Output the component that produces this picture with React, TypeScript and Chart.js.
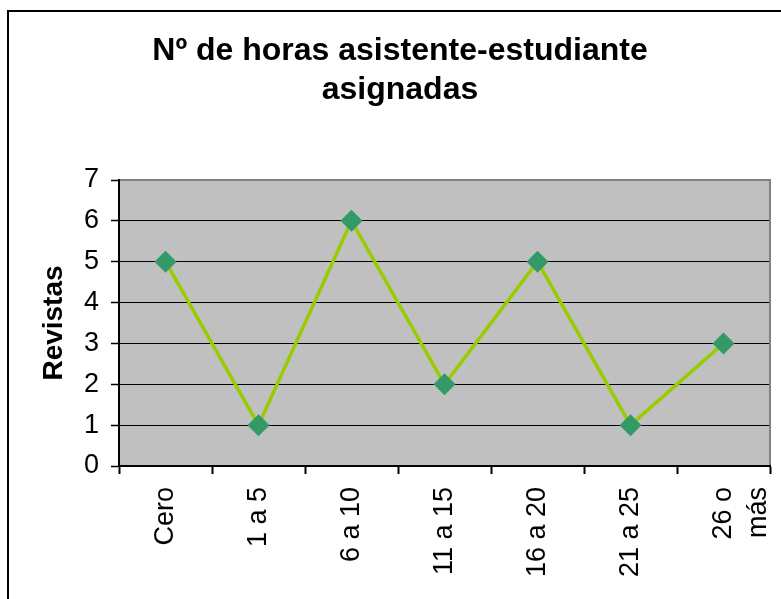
import { useEffect, useRef } from 'react';
import { Chart, registerables } from 'chart.js';

Chart.register(...registerables);

const categories: (string | string[])[] = ['Cero', '1 a 5', '6 a 10', '11 a 15', '16 a 20', '21 a 25', ['26 o', 'más']];
const revistas: number[] = [5, 1, 6, 2, 5, 1, 3];
const yMin = 0;
const yMax = 7;
const yStep = 1;
const titleLines: string[] = ['Nº de horas asistente-estudiante', 'asignadas'];
const yAxisTitle = 'Revistas';

const FONT = '"Liberation Sans", Arial, sans-serif';

const framePlugin = {
  id: 'frame',
  beforeDraw(chart: any) {
    const { ctx, chartArea: a } = chart;
    ctx.save();
    ctx.fillStyle = '#ffffff';
    ctx.fillRect(0, 0, chart.width, chart.height);
    ctx.fillStyle = '#C0C0C0';
    ctx.fillRect(a.left, a.top, a.right - a.left, a.bottom - a.top);
    ctx.strokeStyle = '#000000';
    ctx.lineWidth = 2;
    ctx.beginPath();
    ctx.moveTo(8, chart.height + 2);
    ctx.lineTo(8, 11);
    ctx.lineTo(chart.width + 2, 11);
    ctx.stroke();
    ctx.restore();
  },
  beforeDatasetsDraw(chart: any) {
    const { ctx, chartArea: a } = chart;
    ctx.save();
    ctx.strokeStyle = '#808080';
    ctx.lineWidth = 2;
    ctx.beginPath();
    ctx.moveTo(a.left + 1, a.top);
    ctx.lineTo(a.right, a.top);
    ctx.lineTo(a.right, a.bottom - 1);
    ctx.stroke();
    ctx.restore();
  },
};

export default function App() {
  const ref = useRef<HTMLCanvasElement | null>(null);

  useEffect(() => {
    if (!ref.current) return;
    const chart = new Chart(ref.current, {
      type: 'line',
      data: {
        labels: categories,
        datasets: [
          {
            label: yAxisTitle,
            data: revistas,
            borderColor: '#99CC00',
            borderWidth: 3.5,
            backgroundColor: '#339966',
            pointStyle: 'rectRot',
            pointRadius: 11,
            pointBorderWidth: 0,
            pointBackgroundColor: '#339966',
            pointBorderColor: '#339966',
            tension: 0,
            fill: false,
          },
        ],
      },
      options: {
        responsive: false,
        animation: false,
        devicePixelRatio: 1,
        layout: { padding: { left: 26, right: 7, top: 0, bottom: 0 } },
        plugins: {
          legend: { display: false },
          tooltip: { enabled: false },
          title: {
            display: true,
            text: titleLines,
            color: '#000000',
            font: { family: FONT, size: 32, weight: 'bold', lineHeight: '39px' },
            padding: { top: 32, bottom: 70 },
          },
        },
        scales: {
          x: {
            type: 'category',
            offset: true,
            afterFit(scale: any) {
              scale.height = 133;
              scale.paddingLeft = 0;
              scale.paddingRight = 0;
            },
            grid: {
              display: true,
              offset: true,
              drawOnChartArea: false,
              drawTicks: true,
              tickLength: 8,
              tickColor: '#000000',
              tickWidth: 2,
            },
            border: { display: true, color: '#000000', width: 2 },
            ticks: {
              autoSkip: false,
              maxRotation: 90,
              minRotation: 90,
              padding: 13,
              color: '#000000',
              font: { family: FONT, size: 27, lineHeight: '35px' },
            },
          },
          y: {
            min: yMin,
            max: yMax,
            afterFit(scale: any) {
              scale.width = 93;
              scale.paddingTop = 0;
              scale.paddingBottom = 0;
            },
            grid: {
              color: '#000000',
              lineWidth: 1,
              drawTicks: true,
              tickLength: 8,
              tickColor: '#000000',
              tickWidth: 1.5,
            },
            border: { display: true, color: '#000000', width: 2 },
            ticks: {
              stepSize: yStep,
              padding: 12,
              color: '#000000',
              font: { family: FONT, size: 27 },
            },
            title: {
              display: true,
              text: yAxisTitle,
              color: '#000000',
              font: { family: FONT, size: 28, weight: 'bold' },
              padding: { top: 11, bottom: 0 },
            },
          },
        },
      },
      plugins: [framePlugin],
    });
    return () => chart.destroy();
  }, []);

  return (
    <div style={{ position: 'absolute', left: 0, top: 0, width: 781, height: 599 }}>
      <canvas ref={ref} width={781} height={599} style={{ display: 'block', width: 781, height: 599 }} />
    </div>
  );
}
